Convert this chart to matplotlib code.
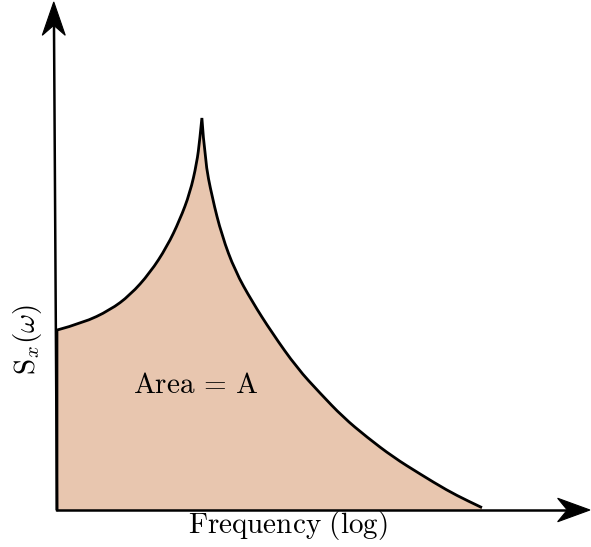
"""Schematic power spectral density: S_x(omega) vs log frequency, shaded area."""
import numpy as np
import matplotlib
matplotlib.use("Agg")
import matplotlib.pyplot as plt
from matplotlib.patches import PathPatch
from matplotlib.path import Path

plt.rcParams["mathtext.fontset"] = "cm"

# curve (normalised: freq 0..1, S = 1 at the peak)
FREQ_UP = [0.000, 0.061, 0.125, 0.172, 0.219, 0.259, 0.289, 0.313, 0.329,
           0.336, 0.341]
SPEC_UP = [0.459, 0.477, 0.510, 0.548, 0.605, 0.672, 0.740, 0.809, 0.885,
           0.944, 1.000]
FREQ_DOWN = [0.341, 0.348, 0.365, 0.388, 0.419, 0.459, 0.506, 0.565, 0.619,
             0.673, 0.729, 0.791, 0.854, 0.918, 0.965, 1.000]
SPEC_DOWN = [1.000, 0.893, 0.798, 0.700, 0.610, 0.532, 0.452, 0.362, 0.298,
             0.237, 0.186, 0.135, 0.092, 0.050, 0.024, 0.006]
FILL = "#E8C6AF"
AREA_LABEL = r"$\mathrm{Area}\,=\,\mathrm{A}$"
XLABEL = r"$\mathrm{Frequency\ (log)}$"
YLABEL = r"$\mathrm{S}_x(\omega)$"


def smooth_path(xs, ys):
    """quadratic bezier through the midpoints, keeps both end points"""
    p = np.column_stack([xs, ys])
    verts, codes = [p[0]], [Path.MOVETO]
    for i in range(1, len(p) - 1):
        mid = (p[i] + p[i + 1]) / 2 if i < len(p) - 2 else p[i + 1]
        verts += [p[i], mid]
        codes += [Path.CURVE3, Path.CURVE3]
    if len(p) == 2:
        verts.append(p[1])
        codes.append(Path.LINETO)
    return verts, codes


def stealth(ax, tip, direction, length=0.08, width=0.025):
    """filled arrow head with a concave back, in data units"""
    d = np.array(direction, float)
    d /= np.linalg.norm(d)
    n = np.array([-d[1], d[0]])
    tip = np.array(tip, float)
    back = tip - d * length
    pts = [tip, back + n * width, tip - d * length * 0.7, back - n * width, tip]
    codes = [Path.MOVETO, Path.LINETO, Path.LINETO, Path.LINETO, Path.CLOSEPOLY]
    ax.add_patch(PathPatch(Path(pts, codes), fc="black", ec="black", lw=0.8,
                           zorder=5))


fig = plt.figure(figsize=(5.91, 5.47), dpi=100)
ax = fig.add_axes([0, 0, 1, 1])
ax.set_xlim(-0.134, 1.2565)
ax.set_ylim(-0.0944, 1.301)
ax.axis("off")

v_up, c_up = smooth_path(FREQ_UP, SPEC_UP)
v_dn, c_dn = smooth_path(FREQ_DOWN, SPEC_DOWN)

# filled region: baseline -> left edge -> curve -> back to baseline
verts = [(0, 0)] + v_up + v_dn[1:] + [(1.0, 0), (0, 0)]
codes = ([Path.MOVETO, Path.LINETO] + c_up[1:] + c_dn[1:]
         + [Path.LINETO, Path.CLOSEPOLY])
ax.add_patch(PathPatch(Path(verts, codes), fc=FILL, ec="none", zorder=1))

outline = [(0, 0)] + v_up + v_dn[1:]
ocodes = [Path.MOVETO, Path.LINETO] + c_up[1:] + c_dn[1:]
ax.add_patch(PathPatch(Path(outline, ocodes), fc="none", ec="black", lw=2.0,
                       joinstyle="miter", capstyle="butt", zorder=3))

# axes drawn by hand, slightly tilted y axis like the original sketch
ax.plot([0.0, -0.007], [0, 1.24], color="black", lw=1.8, zorder=4)
ax.plot([0.0, 1.2], [0, 0], color="black", lw=1.8, zorder=4)
stealth(ax, (-0.0075, 1.296), (0, 1), length=0.085, width=0.027)
stealth(ax, (1.254, 0.0), (1, 0), length=0.076, width=0.030)

ax.text(0.327, 0.319, AREA_LABEL, fontsize=21, ha="center", va="center")
ax.text(0.544, -0.040, XLABEL, fontsize=21, ha="center", va="center")
ax.text(-0.070, 0.434, YLABEL, fontsize=21, ha="center", va="center",
        rotation=90)

fig.savefig("out.png", dpi=100)
